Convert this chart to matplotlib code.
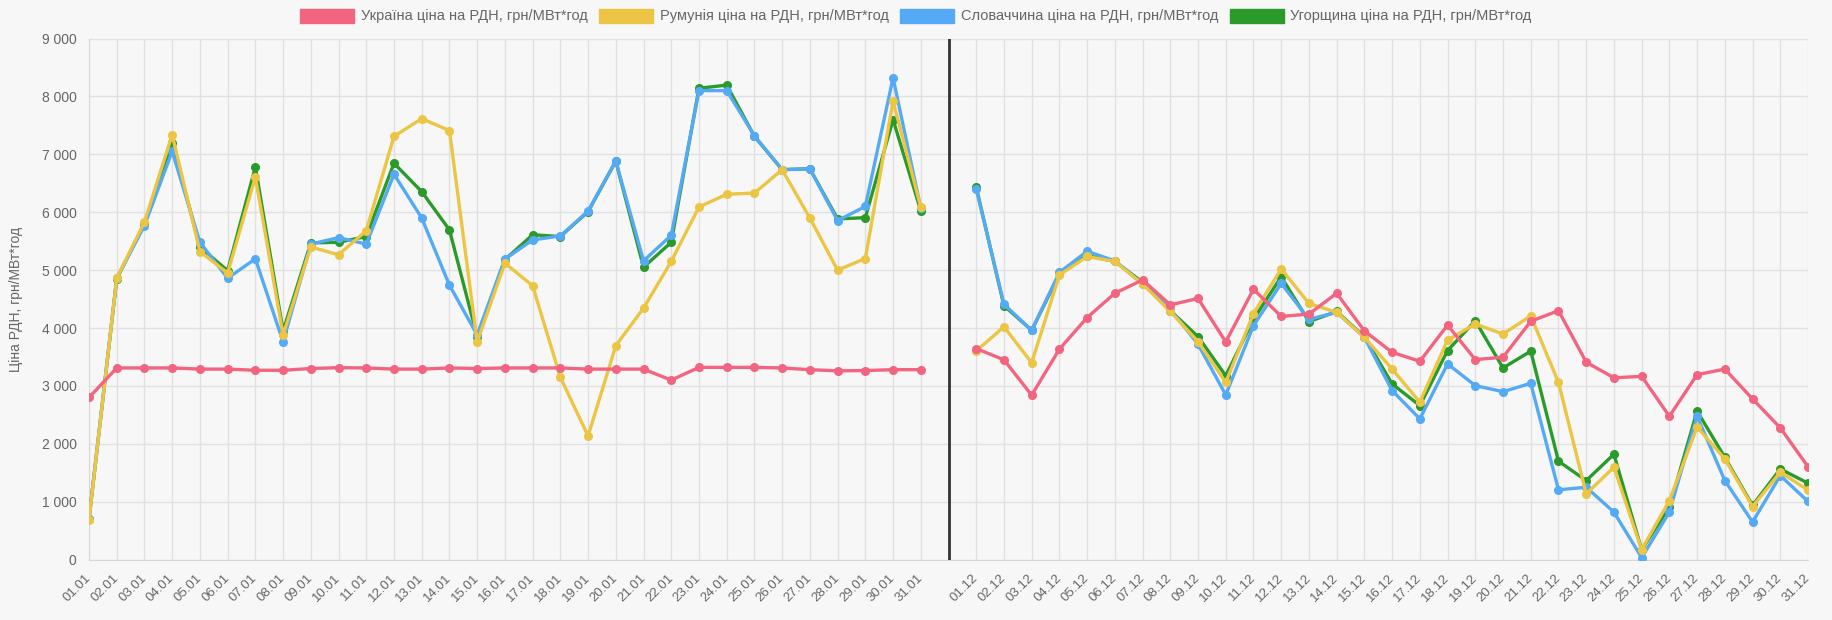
import matplotlib.pyplot as plt
import numpy as np
from matplotlib.patches import Patch
from matplotlib.ticker import FuncFormatter, MultipleLocator

plt.rcParams['font.family'] = ['Liberation Sans', 'DejaVu Sans']

jan_labels = ['%02d.01' % d for d in range(1, 32)]
dec_labels = ['%02d.12' % d for d in range(1, 32)]

# Січень
ukr_jan = [2800, 3310, 3310, 3310, 3290, 3290, 3270, 3270, 3300, 3315, 3310, 3290, 3290, 3310, 3300, 3310,
           3310, 3310, 3290, 3290, 3290, 3100, 3320, 3320, 3320, 3310, 3280, 3260, 3265, 3280, 3280]
rom_jan = [690, 4860, 5830, 7340, 5320, 4950, 6610, 3880, 5400, 5265, 5680, 7310, 7615, 7410, 3760, 5120,
           4730, 3150, 2135, 3695, 4343, 5150, 6090, 6310, 6330, 6735, 5900, 5000, 5200, 7920, 6090]
svk_jan = [700, 4860, 5770, 7050, 5480, 4860, 5195, 3760, 5450, 5560, 5450, 6655, 5900, 4740, 3880, 5190,
           5520, 5590, 6020, 6885, 5160, 5600, 8100, 8100, 7320, 6735, 6750, 5855, 6100, 8320, 6070]
hun_jan = [700, 4850, 5800, 7200, 5400, 4990, 6780, 3950, 5470, 5480, 5580, 6845, 6355, 5695, 3850, 5180,
           5610, 5580, 6010, 6880, 5050, 5480, 8140, 8195, 7310, 6735, 6750, 5885, 5905, 7600, 6025]

# Грудень
ukr_dec = [3645, 3450, 2840, 3635, 4180, 4600, 4830, 4400, 4510, 3760, 4670, 4200, 4240, 4600, 3950, 3580,
           3425, 4050, 3455, 3495, 4115, 4300, 3410, 3140, 3165, 2475, 3195, 3290, 2775, 2275, 1605]
rom_dec = [3605, 4020, 3400, 4915, 5235, 5150, 4760, 4285, 3765, 3060, 4250, 5020, 4425, 4270, 3840, 3290,
           2720, 3790, 4070, 3895, 4210, 3060, 1135, 1595, 170, 1020, 2290, 1740, 915, 1510, 1200]
svk_dec = [6400, 4410, 3960, 4960, 5325, 5160, 4760, 4325, 3720, 2845, 4040, 4770, 4150, 4270, 3840, 2920,
           2430, 3380, 3005, 2900, 3045, 1205, 1250, 820, 35, 820, 2475, 1365, 650, 1450, 1005]
hun_dec = [6430, 4385, 3960, 4930, 5250, 5150, 4790, 4300, 3850, 3175, 4150, 4885, 4110, 4285, 3850, 3035,
           2660, 3610, 4125, 3310, 3600, 1700, 1365, 1820, 170, 905, 2565, 1765, 935, 1565, 1320]

series_names = ['Україна ціна на РДН, грн/МВт*год', 'Румунія ціна на РДН, грн/МВт*год',
                'Словаччина ціна на РДН, грн/МВт*год', 'Угорщина ціна на РДН, грн/МВт*год']
colors = ['#f2647f', '#ebc543', '#55aaf5', '#2a9a2a']

labels = jan_labels + [''] + dec_labels
gap = len(jan_labels)
x = np.arange(len(labels))

bg = '#f7f7f7'
fig = plt.figure(figsize=(18.32, 6.2), dpi=100, facecolor=bg)
ax = fig.add_axes([89 / 1832, 1 - 559.6 / 620, (1808 - 89) / 1832, (559.6 - 38.5) / 620])
ax.set_facecolor(bg)

jan_all = [ukr_jan, rom_jan, svk_jan, hun_jan]
dec_all = [ukr_dec, rom_dec, svk_dec, hun_dec]
for k in range(4):
    y = np.array(jan_all[k] + [np.nan] + dec_all[k], dtype=float)
    ax.plot(x, y, color=colors[k], lw=2.4, marker='o', ms=5.5, zorder=10 - k)

ax.axvline(gap, color='#333333', lw=2, zorder=12)

ax.set_xlim(0, len(labels) - 1)
ax.set_ylim(0, 9000)
ax.set_xticks(x)
ax.set_xticklabels(labels, rotation=45, ha='right', va='center', rotation_mode='anchor')
ax.yaxis.set_major_locator(MultipleLocator(1000))
ax.yaxis.set_major_formatter(FuncFormatter(lambda v, p: '{:,.0f}'.format(v).replace(',', ' ')))
ax.tick_params(axis='x', length=0, pad=12, labelsize=9.5, labelcolor='#666666')
ax.tick_params(axis='y', length=0, pad=9, labelsize=10, labelcolor='#666666')
ax.grid(True, color='#e1e1e1', lw=1)
ax.set_axisbelow(True)
for s in ['top', 'right']:
    ax.spines[s].set_visible(False)
for s in ['left', 'bottom']:
    ax.spines[s].set_color('#d8d8d8')
ax.set_ylabel('Ціна РДН, грн/МВт*год', fontsize=10, color='#666666', labelpad=13)

handles = [Patch(facecolor=c, edgecolor=c) for c in colors]
fig.legend(handles, series_names, loc='center', bbox_to_anchor=(0.5, 1 - 16 / 620), ncol=4,
           frameon=False, fontsize=10.5, handlelength=3.7, handleheight=1.1, handletextpad=0.45,
           columnspacing=0.8, labelcolor='#666666')

fig.savefig('out.png', dpi=100, facecolor=bg)
